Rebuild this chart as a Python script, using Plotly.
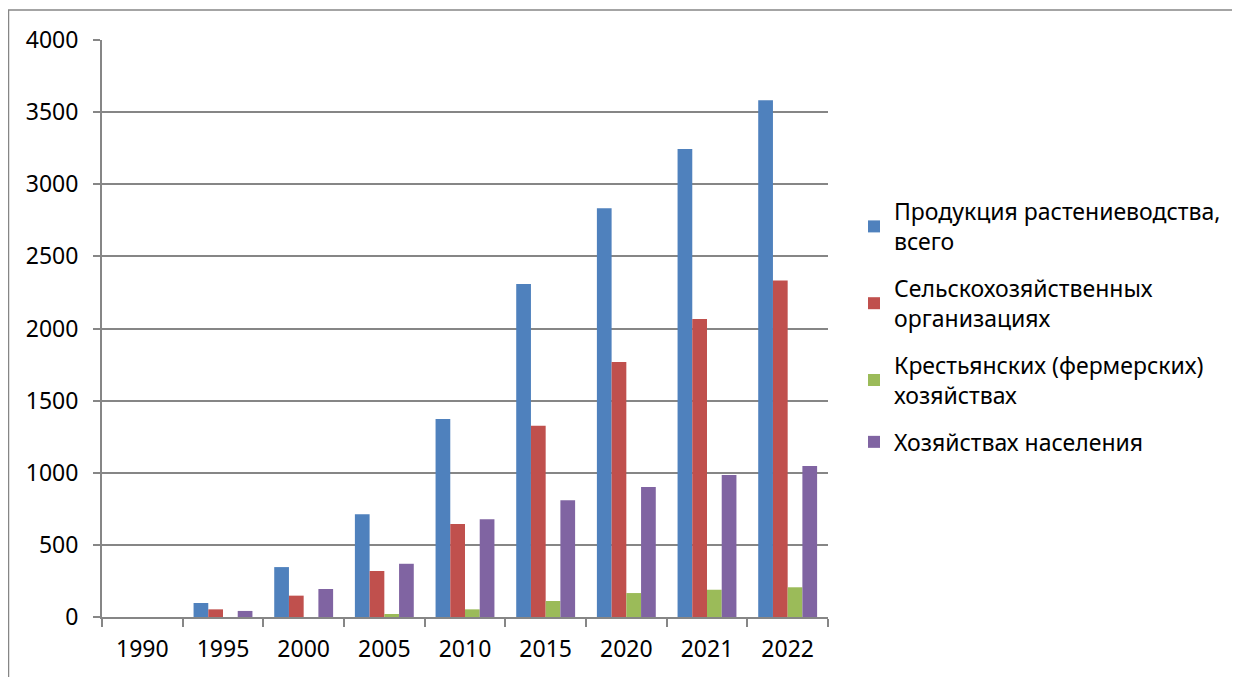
import plotly.graph_objects as go

years = ["1990", "1995", "2000", "2005", "2010", "2015", "2020", "2021", "2022"]
series_names = [
    "Продукция растениеводства,<br>всего",
    "Сельскохозяйственных<br>организациях",
    "Крестьянских (фермерских)<br>хозяйствах",
    "Хозяйствах населения",
]
total = [0, 97, 346, 713, 1372, 2308, 2834, 3245, 3583]
agri_org = [0, 53, 148, 319, 644, 1326, 1767, 2065, 2333]
farms = [0, 0, 0, 21, 53, 111, 166, 189, 206]
households = [0, 42, 194, 369, 677, 809, 901, 984, 1046]
colors = ["#4F81BD", "#C0504D", "#9BBB59", "#8064A2"]

W, H = 1240, 677
L, R, T, B = 94, 420, 32, 68
PW, PH = W - L - R, H - T - B

fig = go.Figure()
for i, (name, vals, c) in enumerate(zip(series_names, [total, agri_org, farms, households], colors)):
    fig.add_trace(go.Bar(x=years, y=vals, name=name, legendgroup=f"g{i}",
                         marker=dict(color=c, line=dict(width=0))))

font = "Noto Sans, Open Sans, DejaVu Sans, sans-serif"
fig.update_layout(
    width=W, height=H,
    margin=dict(l=L, r=R, t=T, b=B, autoexpand=False),
    paper_bgcolor="white", plot_bgcolor="white",
    barmode="group", bargap=0.27, bargroupgap=0,
    font=dict(family=font, size=23, color="#000000"),
    showlegend=True,
    legend=dict(
        x=(846 - L) / PW, xanchor="left",
        y=(H - B - 182) / PH, yanchor="top",
        font=dict(size=23, color="#000000"),
        itemsizing="constant", tracegroupgap=14,
        bgcolor="rgba(0,0,0,0)",
    ),
    xaxis=dict(
        type="category", showline=True, linecolor="#868686", linewidth=2,
        ticks="outside", tickson="boundaries", ticklen=8, tickcolor="#868686", tickwidth=2,
        showgrid=False, tickfont=dict(size=23), ticklabelstandoff=10,
    ),
    yaxis=dict(
        range=[0, 4000], dtick=500, showline=True, linecolor="#868686", linewidth=2,
        ticks="outside", ticklen=7, tickcolor="#868686", tickwidth=2,
        showgrid=True, gridcolor="#868686", gridwidth=2, zeroline=False,
        tickfont=dict(size=23), ticklabelstandoff=10,
    ),
    shapes=[dict(
        type="rect", xref="paper", yref="paper",
        x0=(0.5 - L) / PW, x1=(1260 - L) / PW,
        y0=(H - B - 700) / PH, y1=(H - B - 2) / PH,
        line=dict(color="#868686", width=1.5), layer="below",
    )],
)

fig.write_html("out.html")
